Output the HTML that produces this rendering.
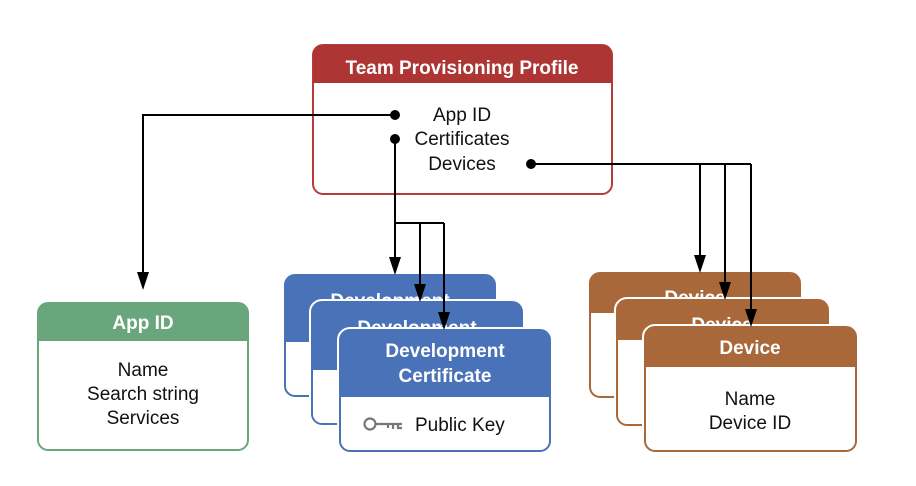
<!DOCTYPE html>
<html><head><meta charset="utf-8"><style>
html,body{margin:0;padding:0;background:#fff;}
svg{display:block;font-family:"Liberation Sans",Arial,sans-serif;}
</style></head><body>
<svg width="916" height="486" viewBox="0 0 916 486" xmlns="http://www.w3.org/2000/svg">

<!-- Team Provisioning Profile -->
<rect x="313" y="45" width="299" height="149" rx="10" fill="#fff" stroke="#b83c3a" stroke-width="2"/>
<path d="M313,83 V55 A10,10 0 0 1 323,45 H602 A10,10 0 0 1 612,55 V83 Z" fill="#ad3634"/>
<text x="462" y="74" text-anchor="middle" font-size="19" font-weight="bold" fill="#fff">Team Provisioning Profile</text>
<text x="462" y="121" text-anchor="middle" font-size="19" fill="#111">App ID</text>
<text x="462" y="145" text-anchor="middle" font-size="19" fill="#111">Certificates</text>
<text x="462" y="170" text-anchor="middle" font-size="19" fill="#111">Devices</text>

<!-- App ID -->
<rect x="38" y="303" width="210" height="147" rx="10" fill="#fff" stroke="#6aa67c" stroke-width="2"/>
<path d="M38,341 V313 A10,10 0 0 1 48,303 H238 A10,10 0 0 1 248,313 V341 Z" fill="#6aa67c"/>
<text x="143" y="329" text-anchor="middle" font-size="19" font-weight="bold" fill="#fff">App ID</text>
<text x="143" y="376" text-anchor="middle" font-size="19" fill="#111">Name</text>
<text x="143" y="400" text-anchor="middle" font-size="19" fill="#111">Search string</text>
<text x="143" y="424" text-anchor="middle" font-size="19" fill="#111">Services</text>

<!-- Dev cards -->
<g>
<rect x="285" y="275" width="210" height="121" rx="10" fill="#fff" stroke="#fff" stroke-width="6"/>
<rect x="285" y="275" width="210" height="121" rx="10" fill="#fff" stroke="#4a72b8" stroke-width="2"/>
<path d="M285,342 V285 A10,10 0 0 1 295,275 H485 A10,10 0 0 1 495,285 V342 Z" fill="#4a72b8"/>
<text x="390" y="307" text-anchor="middle" font-size="19" font-weight="bold" fill="#fff">Development</text>
</g>
<g>
<rect x="312" y="302" width="210" height="122" rx="10" fill="#fff" stroke="#fff" stroke-width="6"/>
<rect x="312" y="302" width="210" height="122" rx="10" fill="#fff" stroke="#4a72b8" stroke-width="2"/>
<path d="M312,370 V312 A10,10 0 0 1 322,302 H512 A10,10 0 0 1 522,312 V370 Z" fill="#4a72b8"/>
<text x="417" y="334" text-anchor="middle" font-size="19" font-weight="bold" fill="#fff">Development</text>
</g>
<g>
<rect x="340" y="330" width="210" height="121" rx="10" fill="#fff" stroke="#fff" stroke-width="6"/>
<rect x="340" y="330" width="210" height="121" rx="10" fill="#fff" stroke="#4a72b8" stroke-width="2"/>
<path d="M340,397 V340 A10,10 0 0 1 350,330 H540 A10,10 0 0 1 550,340 V397 Z" fill="#4a72b8"/>
<text x="445" y="357" text-anchor="middle" font-size="19" font-weight="bold" fill="#fff">Development</text>
<text x="445" y="382" text-anchor="middle" font-size="19" font-weight="bold" fill="#fff">Certificate</text>
<g stroke="#777" stroke-width="2.2" fill="none">
<circle cx="370" cy="424" r="5.5"/>
<path d="M376,424 H402 M388,424 V428 M393,424 V429 M398,424 V429 M397,428 H402"/>
</g>
<text x="415" y="431" font-size="19" fill="#111">Public Key</text>
</g>

<!-- Device cards -->
<g>
<rect x="590" y="273" width="210" height="124" rx="10" fill="#fff" stroke="#fff" stroke-width="6"/>
<rect x="590" y="273" width="210" height="124" rx="10" fill="#fff" stroke="#a9683a" stroke-width="2"/>
<path d="M590,313 V283 A10,10 0 0 1 600,273 H790 A10,10 0 0 1 800,283 V313 Z" fill="#a9683a"/>
<text x="695" y="304" text-anchor="middle" font-size="19" font-weight="bold" fill="#fff">Device</text>
</g>
<g>
<rect x="617" y="300" width="211" height="125" rx="10" fill="#fff" stroke="#fff" stroke-width="6"/>
<rect x="617" y="300" width="211" height="125" rx="10" fill="#fff" stroke="#a9683a" stroke-width="2"/>
<path d="M617,340 V310 A10,10 0 0 1 627,300 H818 A10,10 0 0 1 828,310 V340 Z" fill="#a9683a"/>
<text x="722" y="331" text-anchor="middle" font-size="19" font-weight="bold" fill="#fff">Device</text>
</g>
<g>
<rect x="645" y="327" width="211" height="124" rx="10" fill="#fff" stroke="#fff" stroke-width="6"/>
<rect x="645" y="327" width="211" height="124" rx="10" fill="#fff" stroke="#a9683a" stroke-width="2"/>
<path d="M645,367 V337 A10,10 0 0 1 655,327 H846 A10,10 0 0 1 856,337 V367 Z" fill="#a9683a"/>
<text x="750" y="354" text-anchor="middle" font-size="19" font-weight="bold" fill="#fff">Device</text>
<text x="750" y="405" text-anchor="middle" font-size="19" fill="#111">Name</text>
<text x="750" y="429" text-anchor="middle" font-size="19" fill="#111">Device ID</text>
</g>

<!-- Connectors -->
<g stroke="#000" stroke-width="2" fill="none">
<path d="M395,115 H143 V274"/>
<path d="M395,139 V259"/>
<path d="M395,223 H444 M420,223 V286 M444,223 V314"/>
<path d="M531,164 H751 M700,164 V257 M725,164 V284 M751,164 V311"/>
</g>
<g fill="#000">
<circle cx="395" cy="115" r="5"/>
<circle cx="395" cy="139" r="5"/>
<circle cx="531" cy="164" r="5"/>
<path d="M137,272 H149 L143,290 Z"/>
<path d="M389,257 H401 L395,275 Z"/>
<path d="M414,284 H426 L420,302 Z"/>
<path d="M438,312 H450 L444,330 Z"/>
<path d="M694,255 H706 L700,273 Z"/>
<path d="M719,282 H731 L725,300 Z"/>
<path d="M745,309 H757 L751,327 Z"/>
</g>
</svg>
</body></html>
